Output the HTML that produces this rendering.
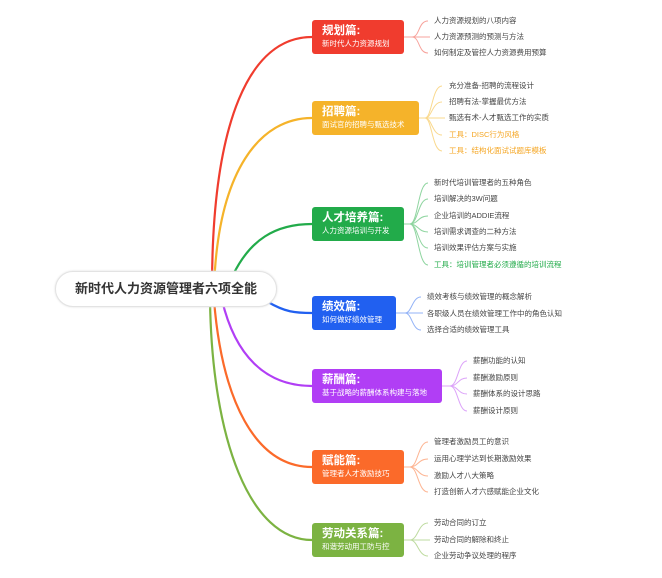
<!DOCTYPE html>
<html><head><meta charset="utf-8"><style>
body{margin:0;width:662px;height:578px;background:#fff;position:relative;overflow:hidden;font-family:"Liberation Sans","Noto Sans CJK SC",sans-serif}
.n{position:absolute;left:312px;border-radius:3px;color:#fff;padding:4px 0 0 10px;box-sizing:border-box;height:34px}
.n b{display:block;font-size:11.5px;line-height:14px}
.n span{display:block;font-size:7.5px;line-height:12px}
.l{position:absolute;font-size:7.5px;color:#444;white-space:nowrap;line-height:10px}
.root{position:absolute;left:55px;top:271px;width:222px;height:36px;border:1px solid #e3e3e3;border-radius:18px;background:#fff;box-sizing:border-box;font-weight:bold;font-size:13px;color:#333;text-align:center;line-height:34px;box-shadow:0 0 2px #ddd}
</style></head><body>
<svg width="662" height="578" style="position:absolute;left:0;top:0" fill="none">
<g stroke-width="2.2">
<path d="M212 288 C212 120 250 37 312 37" stroke="#f03c2e"/>
<path d="M214 288 C218 170 260 118 312 118" stroke="#f5b32a"/>
<path d="M233 275 C250 240 275 224 312 224" stroke="#22ab4a"/>
<path d="M268 302 C285 312 295 313 312 313" stroke="#2160f0"/>
<path d="M222 300 C235 355 265 386 312 386" stroke="#b13ef5"/>
<path d="M214 300 C222 400 255 467 312 467" stroke="#fb6a2a"/>
<path d="M210 300 C212 440 250 540 312 540" stroke="#7cb342"/>
</g>
<g stroke-width="1">
<g stroke="#f7a39c"><path d="M404 37 H412 C420 37 418 21 428 21"/><path d="M412 37 H430"/><path d="M412 37 C420 37 418 53 428 53"/></g>
<g stroke="#fad98e"><path d="M419 118 H425"/><path d="M425 118 C432 118 432 86 442 86"/><path d="M425 118 C432 118 432 102 442 102"/><path d="M425 118 H445"/><path d="M425 118 C432 118 432 135 442 135"/><path d="M425 118 C432 118 432 151 442 151"/></g>
<g stroke="#8fd5a0"><path d="M404 224 H410"/><path d="M410 224 C418 224 418 183 428 183"/><path d="M410 224 C418 224 418 199 428 199"/><path d="M410 224 C418 224 418 216 428 216"/><path d="M410 224 C418 224 418 232 428 232"/><path d="M410 224 C418 224 418 248 428 248"/><path d="M410 224 C418 224 418 265 428 265"/></g>
<g stroke="#93b3f7"><path d="M396 313 H405"/><path d="M405 313 C412 313 412 297 421 297"/><path d="M405 313 H423"/><path d="M405 313 C412 313 412 330 421 330"/></g>
<g stroke="#dca3f9"><path d="M442 386 H450"/><path d="M450 386 C458 386 458 361 467 361"/><path d="M450 386 C458 386 458 378 467 378"/><path d="M450 386 C458 386 458 394 467 394"/><path d="M450 386 C458 386 458 411 467 411"/></g>
<g stroke="#fdb593"><path d="M404 467 H410"/><path d="M410 467 C418 467 418 442 428 442"/><path d="M410 467 C418 467 418 459 428 459"/><path d="M410 467 C418 467 418 476 428 476"/><path d="M410 467 C418 467 418 492 428 492"/></g>
<g stroke="#bedba0"><path d="M404 540 H410"/><path d="M410 540 C418 540 418 523 428 523"/><path d="M410 540 H430"/><path d="M410 540 C418 540 418 556 428 556"/></g>
</g>
</svg>
<div class="root">新时代人力资源管理者六项全能</div>
<div class="n" style="top:20px;width:92px;background:#f03c2e"><b>规划篇:</b><span>新时代人力资源规划</span></div>
<div class="n" style="top:101px;width:107px;background:#f5b32a"><b>招聘篇:</b><span>面试官的招聘与甄选技术</span></div>
<div class="n" style="top:207px;width:92px;background:#22ab4a"><b>人才培养篇:</b><span>人力资源培训与开发</span></div>
<div class="n" style="top:296px;width:84px;background:#2160f0"><b>绩效篇:</b><span>如何做好绩效管理</span></div>
<div class="n" style="top:369px;width:130px;background:#b13ef5"><b>薪酬篇:</b><span>基于战略的薪酬体系构建与落地</span></div>
<div class="n" style="top:450px;width:92px;background:#fb6a2a"><b>赋能篇:</b><span>管理者人才激励技巧</span></div>
<div class="n" style="top:523px;width:92px;background:#7cb342"><b>劳动关系篇:</b><span>和谐劳动用工防与控</span></div>

<div class="l" style="left:434px;top:16px">人力资源规划的八项内容</div>
<div class="l" style="left:434px;top:32px">人力资源预测的预测与方法</div>
<div class="l" style="left:434px;top:48px">如何制定及管控人力资源费用预算</div>

<div class="l" style="left:449px;top:81px">充分准备-招聘的流程设计</div>
<div class="l" style="left:449px;top:97px">招聘有法-掌握最优方法</div>
<div class="l" style="left:449px;top:113px">甄选有术-人才甄选工作的实质</div>
<div class="l" style="left:449px;top:130px;color:#f5a623">工具：DISC行为风格</div>
<div class="l" style="left:449px;top:146px;color:#f5a623">工具：结构化面试试题库模板</div>

<div class="l" style="left:434px;top:178px">新时代培训管理者的五种角色</div>
<div class="l" style="left:434px;top:194px">培训解决的3W问题</div>
<div class="l" style="left:434px;top:211px">企业培训的ADDIE流程</div>
<div class="l" style="left:434px;top:227px">培训需求调查的二种方法</div>
<div class="l" style="left:434px;top:243px">培训效果评估方案与实施</div>
<div class="l" style="left:434px;top:260px;color:#22ab4a">工具：培训管理者必须遵循的培训流程</div>

<div class="l" style="left:427px;top:292px">绩效考核与绩效管理的概念解析</div>
<div class="l" style="left:427px;top:309px">各职级人员在绩效管理工作中的角色认知</div>
<div class="l" style="left:427px;top:325px">选择合适的绩效管理工具</div>

<div class="l" style="left:473px;top:356px">薪酬功能的认知</div>
<div class="l" style="left:473px;top:373px">薪酬激励原则</div>
<div class="l" style="left:473px;top:389px">薪酬体系的设计思路</div>
<div class="l" style="left:473px;top:406px">薪酬设计原则</div>

<div class="l" style="left:434px;top:437px">管理者激励员工的意识</div>
<div class="l" style="left:434px;top:454px">运用心理学达到长期激励效果</div>
<div class="l" style="left:434px;top:471px">激励人才八大策略</div>
<div class="l" style="left:434px;top:487px">打造创新人才六感赋能企业文化</div>

<div class="l" style="left:434px;top:518px">劳动合同的订立</div>
<div class="l" style="left:434px;top:535px">劳动合同的解除和终止</div>
<div class="l" style="left:434px;top:551px">企业劳动争议处理的程序</div>
</body></html>
